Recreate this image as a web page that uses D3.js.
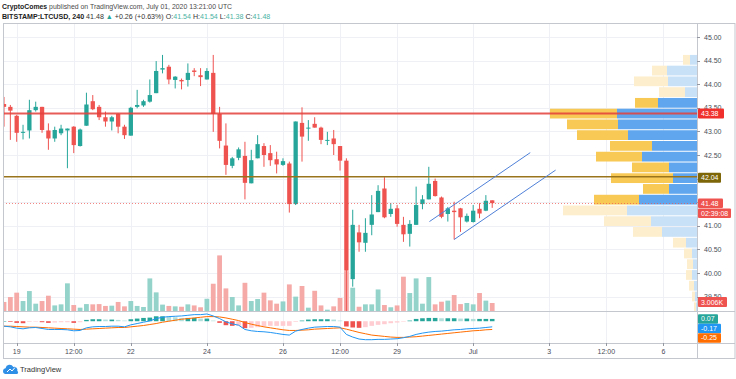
<!DOCTYPE html>
<html><head><meta charset="utf-8">
<script src="https://cdn.jsdelivr.net/npm/d3@7"></script>
<style>body{margin:0;background:#fff;}svg{display:block;font-family:"Liberation Sans",Arial,sans-serif;}</style>
</head><body><svg id="c" width="736" height="379"></svg>
<script>
// ---- data (240-min candles, BITSTAMP:LTCUSD, index 0 = Jun 18 16:00 UTC) ----
const opens = [43.58,43.52,43.33,42.97,43.02,43.45,43.52,43.02,42.85,42.96,
43.02,43.10,42.69,43.12,43.64,43.52,43.30,43.21,43.37,43.10,
42.91,43.52,43.55,43.63,43.81,44.31,44.37,44.09,44.09,44.09,
44.29,44.19,44.10,44.24,43.37,42.70,42.27,42.44,42.48,41.90,
42.43,42.69,42.54,42.41,42.29,42.32,41.46,43.18,43.06,43.16,
43.08,42.80,42.85,42.69,42.38,39.87,40.86,40.64,41.02,41.29,
41.79,41.25,41.37,41.02,40.83,41.02,41.46,41.56,41.95,41.60,
41.25,41.32,41.37,41.09,41.08,41.36,41.32,41.54];
const highs = [43.73,43.56,43.35,43.14,43.67,43.63,43.52,43.17,43.10,43.14,
43.06,43.11,43.06,43.82,43.77,43.56,43.42,43.33,43.38,43.14,
43.52,43.88,43.67,44.10,44.49,44.62,44.41,44.17,44.12,44.44,
44.34,44.34,44.34,44.62,43.52,43.17,42.46,42.66,42.78,42.61,
42.92,42.75,42.71,42.57,42.43,42.36,43.21,43.51,43.24,43.30,
43.10,42.99,43.03,42.69,42.43,41.34,41.02,41.16,41.65,41.86,
42.03,41.48,41.44,41.19,41.12,41.83,41.65,42.25,42.00,41.62,
41.40,41.51,41.38,41.26,41.44,41.48,41.65,41.54];
const lows = [43.10,42.82,42.78,42.83,42.85,43.42,42.97,42.61,42.78,42.92,
42.22,42.54,42.68,43.12,43.45,43.24,43.10,43.02,42.96,42.84,
42.91,43.49,43.52,43.61,43.81,44.23,44.00,43.91,43.89,43.95,
44.17,43.96,44.10,42.99,42.64,42.08,42.22,42.39,41.56,41.90,
42.43,42.25,42.27,42.11,42.27,41.28,41.44,42.36,42.80,43.08,
42.73,42.71,42.50,42.17,39.15,39.71,40.45,40.45,40.80,41.29,
41.16,41.19,40.98,40.66,40.56,41.02,41.35,41.56,41.62,41.16,
41.09,40.71,40.87,41.07,41.07,41.16,41.31,41.38];
const closes = [43.52,43.44,42.97,42.99,43.45,43.52,43.03,42.85,43.03,43.06,
43.06,42.71,43.04,43.57,43.47,43.30,43.21,43.30,43.10,42.92,
43.50,43.56,43.64,43.77,44.28,44.34,44.10,44.16,44.06,44.24,
44.26,44.15,44.28,43.37,42.80,42.29,42.43,42.62,41.91,42.39,
42.73,42.50,42.39,42.30,42.37,41.46,43.21,42.89,43.08,43.08,
42.82,42.82,42.73,42.38,40.05,41.02,40.65,40.85,41.24,41.74,
41.18,41.36,41.04,40.82,41.04,41.44,41.56,41.89,41.63,41.19,
41.37,41.29,41.18,41.21,41.32,41.26,41.53,41.48];
// volume in thousands
const volumes = [3.4,5.25,6.9,3.75,7.5,2.75,3.75,5.75,2.1,2.5,
10.4,2.25,1.25,2.6,2.5,2.6,1.9,2.0,3.4,1.75,
3.75,1.9,1.5,12.25,7.0,2.4,1.9,1.75,1.6,2.5,
2.1,1.4,4.6,10.25,20.9,8.5,5.25,2.1,10.6,3.75,
4.5,6.9,4.0,2.75,3.6,10.0,5.4,9.4,1.25,7.6,
2.1,0.5,1.75,4.9,15,8.75,1.6,2.5,2.5,8.1,
2.25,1.4,2.1,12.9,6.75,12.25,2.75,12.75,2.5,3.5,
3.9,6.0,2.6,3.0,2.5,6.75,3.9,3.006];
const macdLine = [-0.15,-0.17,-0.21,-0.23,-0.20,-0.19,-0.22,-0.25,-0.25,-0.25,
-0.26,-0.29,-0.28,-0.20,-0.17,-0.16,-0.16,-0.15,-0.15,-0.17,
-0.11,-0.07,-0.03,0.01,0.08,0.12,0.14,0.15,0.16,0.18,
0.20,0.20,0.22,0.16,0.08,-0.02,-0.08,-0.12,-0.25,-0.29,
-0.31,-0.32,-0.34,-0.37,-0.40,-0.42,-0.30,-0.25,-0.21,-0.18,
-0.17,-0.16,-0.16,-0.18,-0.40,-0.48,-0.54,-0.56,-0.56,-0.55,
-0.55,-0.54,-0.53,-0.50,-0.46,-0.40,-0.36,-0.33,-0.31,-0.30,
-0.28,-0.26,-0.25,-0.23,-0.22,-0.21,-0.19,-0.17];
const signalLine = [-0.15,-0.15,-0.16,-0.17,-0.18,-0.18,-0.19,-0.20,-0.21,-0.22,
-0.23,-0.24,-0.25,-0.24,-0.23,-0.22,-0.21,-0.20,-0.19,-0.19,
-0.17,-0.15,-0.13,-0.10,-0.07,-0.03,0.00,0.03,0.06,0.08,
0.10,0.12,0.14,0.14,0.13,0.10,0.06,0.02,-0.04,-0.09,
-0.13,-0.17,-0.20,-0.23,-0.26,-0.28,-0.28,-0.27,-0.26,-0.24,
-0.23,-0.22,-0.21,-0.20,-0.24,-0.29,-0.34,-0.38,-0.42,-0.44,
-0.46,-0.48,-0.49,-0.49,-0.48,-0.47,-0.45,-0.43,-0.41,-0.39,
-0.37,-0.35,-0.33,-0.31,-0.29,-0.28,-0.26,-0.25];
const histogram = [0.00,-0.02,-0.05,-0.06,-0.02,-0.01,-0.03,-0.05,-0.04,-0.03,
-0.03,-0.05,-0.03,0.04,0.06,0.06,0.05,0.05,0.04,0.02,
0.06,0.08,0.10,0.11,0.15,0.15,0.14,0.12,0.10,0.10,
0.10,0.08,0.08,0.02,-0.05,-0.12,-0.14,-0.14,-0.21,-0.20,
-0.18,-0.15,-0.14,-0.14,-0.14,-0.14,-0.02,0.02,0.05,0.06,
0.06,0.06,0.05,0.02,-0.16,-0.19,-0.20,-0.18,-0.14,-0.11,
-0.09,-0.06,-0.04,-0.01,0.02,0.07,0.09,0.10,0.10,0.09,
0.09,0.09,0.08,0.08,0.07,0.07,0.07,0.07];
const timeTickIndex = [2,11,20,32,44,53,62,74,86,95,104];
const timeTickLabels = ["19","12:00","22","24","26","12:00","29","Jul","3","12:00","6"];
const priceTicks = [45,44.5,44,43.5,43,42.5,42,41.5,41,40.5,40,39.5];
// price-axis labels that the chart hides behind the level tags
const hiddenPriceLabels = [42,41.5];
// visible-range volume profile, rows from top (high) to bottom (low)
const vpUp =   [7,30,29,12,39,80,79,69,45,55,28,24,28,58,70,46,35,11,5,4,5,3,2,1];
const vpDown = [7,15,34,26,23,67,51,51,42,46,37,62,26,45,64,47,29,13,8,6,6,5,3,2];
const vpHigh = 44.62, vpLow = 39.15, vpValueArea = [4,13];
const levelRed = 43.38, levelOlive = 42.04, lastPrice = 41.48, lastVolume = 3.006;
const countdown = "02:39:08";
const channelUpper = [[67.1,41.09],[83,42.55]];
const channelLower = [[71,40.71],[87,42.18]];

// ---- layout ----
const PL=3, PR=697, PT=23, MB=311, GB=343, AB=358.5, WR=735;
const svg = d3.select("#c");
const x = d3.scaleLinear().domain([-0.16,109.3]).range([PL,PR]);
const y = d3.scaleLinear().domain([39.5,45]).range([296.6,37]);
const yv = d3.scaleLinear().domain([0,30]).range([MB,MB-79.8]);
const ym = d3.scaleLinear().domain([-0.66,0.31]).range([GB,MB]);
const defs = svg.append("defs");
defs.append("clipPath").attr("id","cm").append("rect").attr("x",PL).attr("y",PT).attr("width",PR-PL).attr("height",MB-PT);
defs.append("clipPath").attr("id","cg").append("rect").attr("x",PL).attr("y",MB).attr("width",PR-PL).attr("height",GB-MB);
const idx = d3.range(opens.length);
const up = i => closes[i] >= opens[i];
const GREEN="#26a69a", RED="#ef5350";

// grid
const grid = svg.append("g").attr("stroke","#eef0f5").attr("stroke-width",1);
grid.selectAll(".h").data(priceTicks).join("line").attr("x1",PL).attr("x2",PR)
  .attr("y1",d=>Math.round(y(d))+0.5).attr("y2",d=>Math.round(y(d))+0.5);
grid.selectAll(".v").data(timeTickIndex).join("line").attr("y1",PT).attr("y2",GB)
  .attr("x1",d=>Math.round(x(d))+0.5).attr("x2",d=>Math.round(x(d))+0.5);

const main = svg.append("g").attr("clip-path","url(#cm)");
// volume profile
const rows = vpUp.length, rowP = (vpHigh-vpLow)/rows;
const vw = d3.scaleLinear().domain([0,147]).range([0,147]);
const vp = main.append("g");
d3.range(rows).forEach(r=>{
  const top = y(vpHigh - r*rowP), bot = y(vpHigh-(r+1)*rowP);
  const va = r>=vpValueArea[0] && r<=vpValueArea[1];
  const wu = vw(vpUp[r]), wd = vw(vpDown[r]);
  vp.append("rect").attr("x",PR-wu).attr("y",top).attr("width",wu).attr("height",bot-top-1)
    .attr("fill",va?"#5fa6ee":"#c8e1f7");
  vp.append("rect").attr("x",PR-wu-wd).attr("y",top).attr("width",wd).attr("height",bot-top-1)
    .attr("fill",va?"#f8c955":"#fdeecd");
});
// volume bars
main.append("g").selectAll("rect").data(idx).join("rect")
  .attr("x",i=>x(i)-2.4).attr("width",4.8)
  .attr("y",i=>yv(volumes[i])).attr("height",i=>MB-yv(volumes[i]))
  .attr("fill",i=>up(i)?"#93d3ca":"#f5aaa8");
// candles
const cg = main.append("g");
cg.selectAll("line").data(idx).join("line")
  .attr("x1",i=>x(i)).attr("x2",i=>x(i)).attr("y1",i=>y(highs[i])).attr("y2",i=>y(lows[i]))
  .attr("stroke",i=>up(i)?GREEN:RED).attr("stroke-width",1);
cg.selectAll("rect").data(idx).join("rect")
  .attr("x",i=>x(i)-2.15).attr("width",4.3)
  .attr("y",i=>y(Math.max(opens[i],closes[i])))
  .attr("height",i=>Math.max(1,Math.abs(y(opens[i])-y(closes[i]))))
  .attr("fill",i=>up(i)?GREEN:RED);
// horizontal levels
main.append("line").attr("x1",PL).attr("x2",PR).attr("y1",y(levelRed)).attr("y2",y(levelRed))
  .attr("stroke","#e5403b").attr("stroke-width",2).attr("opacity",0.85);
main.append("line").attr("x1",PL).attr("x2",PR).attr("y1",y(levelOlive)).attr("y2",y(levelOlive))
  .attr("stroke","#9a741c").attr("stroke-width",1.5);
main.append("line").attr("x1",PL).attr("x2",PR).attr("y1",Math.round(y(lastPrice))+0.5).attr("y2",Math.round(y(lastPrice))+0.5)
  .attr("stroke","#ef5350").attr("stroke-width",1).attr("stroke-dasharray","1,2").attr("opacity",0.7);
// channel
[channelUpper,channelLower].forEach(c=>{
  main.append("line").attr("x1",x(c[0][0])).attr("y1",y(c[0][1])).attr("x2",x(c[1][0])).attr("y2",y(c[1][1]))
    .attr("stroke","#4f80d8").attr("stroke-width",1);
});

// MACD pane
const mg = svg.append("g").attr("clip-path","url(#cg)");
mg.selectAll("rect").data(idx).join("rect")
  .attr("x",i=>x(i)-2.3).attr("width",4.6)
  .attr("y",i=>Math.min(ym(histogram[i]),ym(0)))
  .attr("height",i=>Math.max(0.5,Math.abs(ym(histogram[i])-ym(0))))
  .attr("fill",i=>{const h=histogram[i], p=i>0?histogram[i-1]:h;
     return h>=0 ? (h>=p?"#26a69a":"#b2dfdb") : (h<p?"#ef5350":"#ffcdd2");});
mg.append("path").datum(idx).attr("fill","none").attr("stroke","#ff6d00").attr("stroke-width",1)
  .attr("d",d3.line().x(i=>x(i)).y(i=>ym(signalLine[i])));
mg.append("path").datum(idx).attr("fill","none").attr("stroke","#2196f3").attr("stroke-width",1)
  .attr("d",d3.line().x(i=>x(i)).y(i=>ym(macdLine[i])));

// frame
const fr = svg.append("g").attr("stroke","#c4c7ce").attr("stroke-width",1).attr("fill","none");
fr.append("rect").attr("x",PL+0.5).attr("y",PT+0.5).attr("width",WR-PL-0.5).attr("height",AB-PT-0.5);
fr.append("line").attr("x1",PR+0.5).attr("x2",PR+0.5).attr("y1",PT).attr("y2",AB);
fr.append("line").attr("x1",PL).attr("x2",WR).attr("y1",MB+0.5).attr("y2",MB+0.5);
fr.append("line").attr("x1",PL).attr("x2",WR).attr("y1",GB+0.5).attr("y2",GB+0.5);

// price axis
const shown = priceTicks.filter(p=>!hiddenPriceLabels.includes(p));
const pa = svg.append("g");
pa.selectAll("line").data(priceTicks).join("line").attr("x1",PR).attr("x2",PR+3)
  .attr("y1",d=>Math.round(y(d))+0.5).attr("y2",d=>Math.round(y(d))+0.5).attr("stroke","#9598a1");
pa.selectAll("text").data(shown).join("text").attr("x",PR+7).attr("y",d=>y(d)+2.5)
  .attr("font-size",7).attr("fill","#4a4d57").text(d=>d.toFixed(2));
// time axis
const ta = svg.append("g");
ta.selectAll("line").data(timeTickIndex).join("line").attr("y1",GB).attr("y2",GB+3)
  .attr("x1",d=>Math.round(x(d))+0.5).attr("x2",d=>Math.round(x(d))+0.5).attr("stroke","#9598a1");
ta.selectAll("text").data(timeTickIndex).join("text").attr("x",d=>x(d)).attr("y",354)
  .attr("text-anchor","middle").attr("font-size",7).attr("fill","#4a4d57").text((d,k)=>timeTickLabels[k]);

// axis tags
function tag(yc,txt,fill,w,h){
  const g=svg.append("g");
  g.append("rect").attr("x",PR+1).attr("y",yc-h/2).attr("width",w).attr("height",h).attr("fill",fill).attr("rx",1);
  g.append("text").attr("x",PR+4).attr("y",yc+2.5).attr("font-size",7).attr("fill","#fff").text(txt);
}
tag(y(levelRed),levelRed.toFixed(2),"#f0302c",26,10);
tag(y(levelOlive)+1,levelOlive.toFixed(2),"#7d6608",23,10);
tag(y(lastPrice),lastPrice.toFixed(2),"#ef5350",25,9.5);
tag(y(lastPrice)+10,countdown,"#ef5350",33,9.5);
tag(yv(lastVolume)-1,lastVolume.toFixed(3)+"K","#ef5350",29,10);
// MACD tags with stacking
const ml=[{v:histogram[histogram.length-1],t:"0.07",c:"#26a69a",w:20},
          {v:macdLine[macdLine.length-1],t:"-0.17",c:"#2196f3",w:23},
          {v:signalLine[signalLine.length-1],t:"-0.25",c:"#ff6d00",w:23}];
let prev=-1e9; const LH=9.5;
ml.map(d=>({...d,yc:ym(d.v)})).sort((a,b)=>a.yc-b.yc).forEach(d=>{
  const yc=Math.max(d.yc,prev+LH); prev=yc; tag(yc,d.t,d.c,d.w,LH);
});

// header
const h1 = svg.append("text").attr("x",2).attr("y",8.5).attr("font-size",6.9).attr("fill","#4a4a4a");
h1.append("tspan").attr("font-weight","bold").attr("fill","#222").text("CryptoComes");
h1.append("tspan").text(" published on TradingView.com, July 01, 2020 13:21:00 UTC");
const h2 = svg.append("text").attr("x",2).attr("y",18.5).attr("font-size",7.1).attr("fill","#333");
h2.append("tspan").attr("font-weight","bold").attr("fill","#222").text("BITSTAMP:LTCUSD, 240");
h2.append("tspan").text(" 41.48 ");
h2.append("tspan").attr("fill",GREEN).text("▲");
h2.append("tspan").text(" +0.26 (+0.63%) O:");
h2.append("tspan").attr("fill","#4bb3a4").text("41.54");
h2.append("tspan").text(" H:");
h2.append("tspan").attr("fill","#4bb3a4").text("41.54");
h2.append("tspan").text(" L:");
h2.append("tspan").attr("fill","#4bb3a4").text("41.38");
h2.append("tspan").text(" C:");
h2.append("tspan").attr("fill","#4bb3a4").text("41.48");

// footer logo
const lg = svg.append("g");
lg.append("path").attr("d","M5,374 a3,3 0 0 1 0.5,-5.8 a4.2,4.2 0 0 1 7.8,-1.2 a3.2,3.2 0 0 1 4,4 a1.6,1.6 0 0 1 -0.6,3 z").attr("fill","#2f8fe6");
lg.append("polyline").attr("points","7,372 10,369 12,371 15,367.5").attr("fill","none").attr("stroke","#fff").attr("stroke-width",1);
svg.append("text").attr("x",20).attr("y",372).attr("font-size",7.5).attr("fill","#333").text("TradingView");
</script></body></html>
